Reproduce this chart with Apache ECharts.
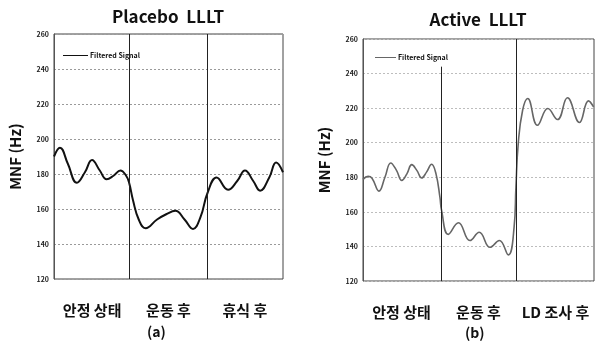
<!DOCTYPE html>
<html>
<head>
<meta charset="utf-8">
<script src="https://cdn.jsdelivr.net/npm/echarts@6/dist/echarts.min.js"></script>
<style>
  html, body { margin: 0; padding: 0; background: #fff; }
  #chart { width: 607px; height: 349px; }
</style>
</head>
<body>
<div id="chart"></div>
<script>
// Mean frequency (MNF) of the filtered EMG signal over the session (0-100 % of time)
const placeboTime = [0, 2.6, 6, 10, 13.5, 16.6, 20, 23, 26, 29, 31.5, 32.8, 34.5, 37, 40, 45, 49, 53, 57, 60.7, 64, 67, 71, 76, 80, 83.4, 87, 90, 94, 97, 100];
const placeboMNF  = [190, 195, 186, 175, 181, 188, 182, 177, 179, 182, 179, 175, 165, 154, 149, 154, 157, 159, 154, 148.6, 155.5, 169, 178, 171, 176, 182, 176, 170.5, 178, 186.6, 181];

const activeTime = [0, 2.2, 3.9, 6.9, 9.5, 12, 14.5, 16.8, 19, 21.1, 23.3, 25.4, 27.5, 29.7, 31.6, 33.3, 34, 36.9, 41.3, 46.3, 50.3, 55, 59, 62.9, 65.4, 66.2, 67.2, 69.1, 71.3, 75.5, 80, 84.2, 88.5, 93.7, 97.6, 99.8];
const activeMNF  = [178.8, 180.5, 179.5, 172, 180, 188.3, 184, 178.2, 182, 187.3, 184, 179.6, 183, 187.5, 182, 168.5, 161, 147, 153.7, 143.4, 148.2, 139.5, 143.4, 135.1, 151, 174.3, 199.5, 218.8, 225.6, 210.1, 219.8, 213.4, 226, 211.7, 224.2, 220.7];

// Phase boundaries (same time scale) and phase names
const placeboSplits = [32.8, 66.8];
const activeSplits  = [33.8, 66.2];
const activeFirstSplitTop = 244;
const placeboPhases = ['안정 상태', '운동 후', '휴식 후'];
const activePhases  = ['안정 상태', '운동 후', 'LD 조사 후'];

const yMin = 120, yMax = 260, yStep = 20;
const seriesName = 'Filtered Signal';
const titles = ['Placebo  LLLT', 'Active  LLLT'];
const panelTags = ['(a)', '(b)'];

const FONT = '"Noto Sans CJK KR", "Noto Sans", sans-serif';

function pairs(t, v) { return t.map((x, i) => [x, v[i]]); }

const chart = echarts.init(document.getElementById('chart'), null, { renderer: 'canvas' });

const grids = [
  { left: 54, right: 324, top: 34, bottom: 70 },
  { left: 363, right: 13, top: 39, bottom: 68 }
];

function yAxisFor(idx, gridColor) {
  return {
    type: 'value', gridIndex: idx, min: yMin, max: yMax, interval: yStep,
    name: 'MNF (Hz)', nameLocation: 'middle', nameGap: 31, nameRotate: 90,
    nameTextStyle: { fontFamily: FONT, fontWeight: 'bold', fontSize: 15, color: '#111' },
    axisLine: { show: true, lineStyle: { color: '#555', width: 1 } },
    axisTick: { show: false },
    axisLabel: { fontFamily: FONT, fontWeight: 'bold', fontSize: 7, color: '#222', margin: 5 },
    splitLine: { show: true, lineStyle: { color: gridColor, type: [2, 2], width: 1 } }
  };
}

function valueX(idx) {
  return { type: 'value', gridIndex: idx, min: 0, max: 100, show: false, splitLine: { show: false } };
}

function phaseX(idx, phases) {
  return {
    type: 'category', gridIndex: idx, data: phases, position: 'bottom',
    axisLine: { show: false }, axisTick: { show: false }, splitLine: { show: false },
    axisLabel: { interval: 0, hideOverlap: false, fontFamily: FONT, fontWeight: 'bold',
                 fontSize: 15, color: '#111', margin: 24 }
  };
}

function splitMarks(splits, firstTop) {
  return {
    silent: true, symbol: 'none', label: { show: false },
    lineStyle: { color: '#222', type: 'solid', width: 1 },
    data: splits.map((s, i) => [
      { coord: [s, yMin] },
      { coord: [s, i === 0 && firstTop ? firstTop : yMax] }
    ])
  };
}

const option = {
  animation: false,
  backgroundColor: '#fff',
  title: [
    { text: titles[0], left: 163, top: 3, textAlign: 'center',
      textStyle: { fontFamily: FONT, fontWeight: 'bold', fontSize: 17, color: '#111' } },
    { text: titles[1], left: 473, top: 6, textAlign: 'center',
      textStyle: { fontFamily: FONT, fontWeight: 'bold', fontSize: 17, color: '#111' } }
  ],
  legend: [
    { left: 58, top: 47, icon: 'rect', itemWidth: 25, itemHeight: 1, itemGap: 3,
      data: [{ name: seriesName, itemStyle: { color: '#111' } }],
      textStyle: { fontFamily: FONT, fontSize: 7, fontWeight: 'bold', color: '#111', padding: [0, 0, 0, -3] } },
    { left: 370, top: 49, icon: 'rect', itemWidth: 21, itemHeight: 1, itemGap: 3,
      data: [{ name: seriesName, itemStyle: { color: '#666' } }],
      textStyle: { fontFamily: FONT, fontSize: 7, fontWeight: 'bold', color: '#111', padding: [0, 0, 0, -3] } }
  ],
  grid: grids.map(g => Object.assign({ show: true, borderColor: '#444', borderWidth: 1, backgroundColor: 'transparent' }, g)),
  xAxis: [valueX(0), valueX(1), phaseX(0, placeboPhases), phaseX(1, activePhases)],
  yAxis: [yAxisFor(0, '#9a9a9a'), yAxisFor(1, '#bdbdbd')],
  series: [
    {
      name: seriesName, type: 'line', xAxisIndex: 0, yAxisIndex: 0,
      data: pairs(placeboTime, placeboMNF), smooth: 0.45, showSymbol: false,
      lineStyle: { color: '#111', width: 2 },
      markLine: splitMarks(placeboSplits, null)
    },
    {
      name: seriesName, type: 'line', xAxisIndex: 1, yAxisIndex: 1,
      data: pairs(activeTime, activeMNF), smooth: 0.45, showSymbol: false,
      lineStyle: { color: '#666', width: 1.6 },
      markLine: splitMarks(activeSplits, activeFirstSplitTop)
    }
  ],
  graphic: [
    { type: 'text', left: 147, top: 325,
      style: { text: panelTags[0], fontFamily: FONT, fontWeight: 'bold', fontSize: 14, fill: '#111' } },
    { type: 'text', left: 465, top: 326,
      style: { text: panelTags[1], fontFamily: FONT, fontWeight: 'bold', fontSize: 14, fill: '#111' } }
  ]
};

chart.setOption(option);
</script>
</body>
</html>
